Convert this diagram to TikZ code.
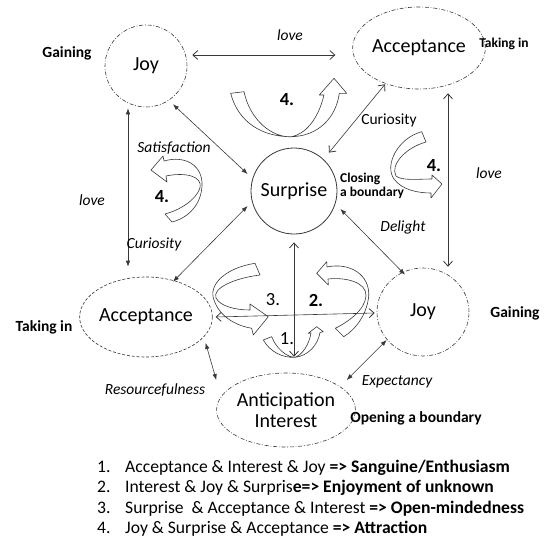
\documentclass[tikz,border=0pt]{standalone}
\usepackage{fontspec}
\setmainfont{Carlito}
\usetikzlibrary{arrows.meta,shapes.geometric}
\begin{document}
\begin{tikzpicture}[x=1pt,y=-1pt,
  ink/.style={draw=black!78},
  emo/.style={ink, line width=0.6pt, inner sep=0pt, align=center,
    font=\fontsize{20}{21}\selectfont},
  dashdot/.style={dash pattern=on 4pt off 1.8pt on 0.8pt off 1.8pt},
  dashedline/.style={dash pattern=on 3pt off 1.8pt},
  openarr/.style={ink, line width=0.6pt,
    {Straight Barb[length=5pt,width=9pt,line width=0.8pt]}-{Straight Barb[length=5pt,width=9pt,line width=0.8pt]}},
  fillarr/.style={ink, line width=0.6pt,
    {Latex[length=6pt,width=4.5pt]}-{Latex[length=6pt,width=4.5pt]}},
  band/.style={ink, line width=0.6pt, line join=round},
  lbl/.style={inner sep=0pt, font=\fontsize{15.5}{17}\selectfont\itshape},
  lblup/.style={inner sep=0pt, font=\fontsize{15.5}{17}\selectfont},
  tag/.style={inner sep=0pt, font=\fontsize{15.5}{17}\selectfont\bfseries},
  smalltag/.style={inner sep=0pt, font=\fontsize{13.5}{14}\selectfont\bfseries},
  num/.style={inner sep=0pt, font=\fontsize{18.5}{20}\selectfont},
  legend/.style={inner sep=0pt, anchor=base west, font=\fontsize{17.6}{20}\selectfont}
]
\useasboundingbox (0,0) rectangle (544,544);

% emotion nodes
\node[emo, circle, dashdot, minimum size=82pt] (joyA) at (146,66) {Joy};
\node[emo, ellipse, dashdot, minimum width=100pt, minimum height=82pt] (accR) at (419,48) {Acceptance};
\node[emo, circle, line width=0.8pt, minimum size=86pt] (sur) at (294,191) {Surprise};
\node[emo, ellipse, dashedline, minimum width=96pt, minimum height=80pt] (accL) at (146,317) {Acceptance};
\node[emo, ellipse, dashdot, minimum width=92pt, minimum height=88pt] (joyB) at (423,312) {Joy};
\node[emo, ellipse, dashdot, minimum width=102pt, minimum height=74pt,
  font=\fontsize{20}{21}\selectfont] (ant) at (286,410) {Anticipation\\Interest};

% connectors
\draw[openarr] ([shift={(5,-11)}]joyA.east) -- ([shift={(-17,7)}]accR.west);
\draw[fillarr] ([shift={(-18,1)}]joyA.south) -- ([shift={(-18,-10)}]accL.north);
\draw[openarr] ([shift={(29,4)}]accR.south) -- ([shift={(25,-1)}]joyB.north);
\draw[fillarr] ([shift={(27,-3)}]joyA.south) -- ([shift={(-3,-17)}]sur.west);
\draw[openarr] ([shift={(-34,-5)}]accR.south) -- ([shift={(35,5)}]sur.north);
\draw[fillarr] ([shift={(-3,15)}]sur.west) -- ([shift={(27,5)}]accL.north);
\draw[fillarr] ([shift={(3,18)}]sur.east) -- ([shift={(-18,7)}]joyB.north);
\draw[openarr] ([shift={(0,8)}]sur.south) -- ([shift={(8,-16)}]ant.north);
\draw[openarr] ([shift={(3,0)}]accL.east) -- ([shift={(-2,1)}]joyB.west);
\draw[fillarr] ([shift={(-7,26)}]accL.east) -- ([shift={(0,-30)}]ant.west);
\draw[fillarr] ([shift={(10,28)}]joyB.west) -- ([shift={(-9,-30)}]ant.east);

% connector labels
\node[lbl] (lLoveTop) at (290,35) {love};
\node[lbl] (lLoveLeft) at (92,200) {love};
\node[lbl] (lLoveRight) at (489,173) {love};
\node[lbl] (lSatis) at (174,148) {Satisfaction};
\node[lblup] (lCurR) at (389,120) {Curiosity};
\node[lbl] (lCurL) at (154,244) {Curiosity};
\node[lbl] (lDelight) at (403,227) {Delight};
\node[lbl] (lResource) at (155,390) {Resourcefulness};
\node[lbl] (lExpect) at (397,382) {Expectancy};

% side tags
\node[tag] (tGainA) at (67,53) {Gaining};
\node[smalltag] (tTakeR) at (504,44) {Taking in};
\node[tag] (tGainB) at (515,313) {Gaining};
\node[tag] (tTakeL) at (44,327) {Taking in};
\node[smalltag, align=left, anchor=west, font=\fontsize{13.5}{14}\selectfont\bfseries] (tClose) at (340,186) {Closing\\a boundary};
\node[tag] (tOpen) at (416,418) {Opening a boundary};

% twisted block arrows
% top (4.)
\draw[band] (230.7,93.3) .. controls (238,122) and (262,137) .. (291.7,136.7)
  .. controls (318,136) and (336,118) .. (339.3,93.3) -- (346.7,93.3) -- (334,78.3)
  -- (319.3,95) -- (324,95) .. controls (318,120) and (305,134) .. (291.7,136.7)
  .. controls (272,138) and (250,120) .. (244,91.7) -- cycle;
% right (4.)
\draw[band] (421.7,131.7) .. controls (398,138) and (384,165) .. (394,179)
  .. controls (402,190) and (418,193) .. (431,193) -- (431,198) -- (442,184)
  -- (432,175) -- (432,179) .. controls (418,179) and (402,181) .. (396,176)
  .. controls (390,165) and (405,148) .. (426,142) -- cycle;
% left (4.)
\draw[band] (164,161) .. controls (185,155) and (203,165) .. (202,186)
  .. controls (201,205) and (188,218) .. (172,222) -- (165,214)
  .. controls (180,210) and (196,200) .. (200,188)
  .. controls (203,176) and (185,172) .. (166,176) -- (167,182) -- (151,170)
  -- (163,156) -- cycle;
% 3.
\draw[band] (255,263.3) .. controls (225,268) and (208,285) .. (214,300)
  .. controls (220,318) and (238,326) .. (251.7,328.3) -- (253.3,335) -- (268.3,316.7)
  -- (250,304) -- (250,310) .. controls (235,310) and (220,306) .. (216,298)
  .. controls (212,288) and (235,278) .. (260,275) -- cycle;
% 2.
\draw[band] (327,267) .. controls (350,262) and (370,275) .. (368.7,296)
  .. controls (367,315) and (355,330) .. (343.7,336.7) -- (335.3,328.3)
  .. controls (348,322) and (365,310) .. (366,296)
  .. controls (367,282) and (345,277) .. (328,279) -- (328.3,285) -- (316.7,273.3)
  -- (326.7,261.7) -- cycle;
% 1.
\draw[band] (263.3,340) .. controls (270,352) and (283,358) .. (295,357.3)
  .. controls (308,356) and (318,345) .. (320,332.5) -- (323.3,331.7) -- (316.7,326.7)
  -- (308.3,333.3) -- (311,333) .. controls (309,345) and (302,355) .. (295,357.3)
  .. controls (286,357) and (276,348) .. (271.7,336.7) -- cycle;

% numbers of the combinations
\node[num, font=\fontsize{18.5}{20}\selectfont\bfseries] (n4a) at (287,100) {4.};
\node[num, font=\fontsize{18.5}{20}\selectfont\bfseries] (n4b) at (434,166) {4.};
\node[num, font=\fontsize{18.5}{20}\selectfont\bfseries] (n4c) at (162,197) {4.};
\node[num] (n3) at (273,300) {3.};
\node[num, font=\fontsize{18.5}{20}\selectfont\bfseries] (n2) at (316,300) {2.};
\node[num] (n1) at (287,339) {1.};

% legend
\node[legend] (leg1) at (97,472) {\makebox[28pt][l]{1.}Acceptance \& Interest \& Joy \textbf{=> Sanguine/Enthusiasm}};
\node[legend] (leg2) at (97,492.5) {\makebox[28pt][l]{2.}Interest \& Joy \& Surpris\textbf{e=> Enjoyment of unknown}};
\node[legend] (leg3) at (97,513) {\makebox[28pt][l]{3.}Surprise\ \ \& Acceptance \& Interest \textbf{=> Open-mindedness}};
\node[legend] (leg4) at (97,533.5) {\makebox[28pt][l]{4.}Joy \& Surprise \& Acceptance \textbf{=> Attraction}};
\end{tikzpicture}
\end{document}
